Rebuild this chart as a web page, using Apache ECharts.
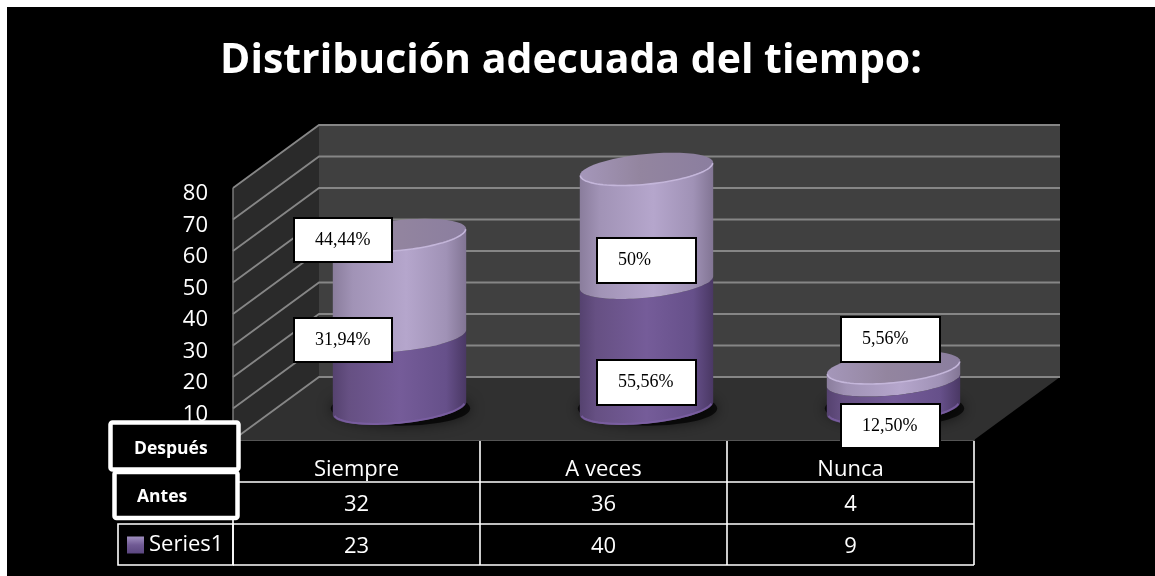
<!DOCTYPE html>
<html>
<head>
<meta charset="utf-8">
<style>
html,body{margin:0;padding:0;background:#fff;}
#chart{position:absolute;left:0;top:0;width:1155px;height:576px;
background:linear-gradient(#000,#000) 7px 7px/1148px 569px no-repeat #fff;}
</style>
<script src="https://cdn.jsdelivr.net/npm/echarts@6/dist/echarts.min.js"></script>
</head>
<body>
<div id="chart"></div>
<script>
const titleText = 'Distribución adecuada del tiempo:';
const categories = ['Siempre', 'A veces', 'Nunca'];
const antes = [32, 36, 4];
const series1 = [23, 40, 9];
const yTicks = [0, 10, 20, 30, 40, 50, 60, 70, 80];
const upperLabels = ['44,44%', '50%', '5,56%'];
const lowerLabels = ['31,94%', '55,56%', '12,50%'];
const rowHeaders = ['Después', 'Antes'];

// layout
const DX = 86, DY = -63, SHEAR = -0.095, RY = 15.2, RX_RATIO = 0.27;
const GRID = {left: 233, top: 188, width: 741, height: 252};
const ROWS = [441, 482, 524, 565];
const UI = '"Open Sans", "Noto Sans", sans-serif';

const chart = echarts.init(document.getElementById('chart'), null, {renderer: 'canvas', width: 1155, height: 576});

function ell(cx, cy, rx, t) {
  return [cx + rx * Math.cos(t), cy + RY * Math.sin(t) + SHEAR * rx * Math.cos(t)];
}
function arc(cx, cy, rx, from, to) {
  const pts = [];
  for (let k = 0; k <= 48; k++) pts.push(ell(cx, cy, rx, from + (to - from) * k / 48));
  return pts;
}
function hGrad(stops) {
  return {type: 'linear', x: 0, y: 0, x2: 1, y2: 0,
    colorStops: stops.map(s => ({offset: s[0], color: s[1]}))};
}
const LOWER_FILL = hGrad([[0, '#55426f'], [0.12, '#665083'], [0.5, '#755c99'], [0.85, '#66508a'], [1, '#4a3864']]);
const UPPER_FILL = hGrad([[0, '#8a7d9c'], [0.15, '#a193b6'], [0.55, '#b5a6cc'], [0.85, '#a092b6'], [1, '#827594']]);
const CAP_FILL = hGrad([[0, '#a597ba'], [0.45, '#93859f'], [1, '#8b7e9f']]);
const ICON_FILL = {type: 'linear', x: 0, y: 0, x2: 0, y2: 1,
  colorStops: [{offset: 0, color: '#a08fc0'}, {offset: 0.5, color: '#705a94'}, {offset: 1, color: '#5b4780'}]};

function renderWalls(params, api) {
  const g = params.coordSys;
  const L = g.x, R = g.x + g.width, T = g.y, B = g.y + g.height;
  const children = [
    {type: 'polygon', shape: {points: [[L, T], [L + DX, T + DY], [L + DX, B + DY], [L, B]]}, style: {fill: '#2a2a2a'}},
    {type: 'polygon', shape: {points: [[L + DX, T + DY], [R + DX, T + DY], [R + DX, B + DY], [L + DX, B + DY]]}, style: {fill: '#404040'}},
    {type: 'polygon', shape: {points: [[L, B], [L + DX, B + DY], [R + DX, B + DY], [R, B]]}, style: {fill: '#303030'}}
  ];
  yTicks.forEach(v => {
    const y = api.coord([0, v])[1];
    children.push({type: 'polyline', shape: {points: [[L, y], [L + DX, y + DY], [R + DX, y + DY]]},
      style: {fill: 'none', stroke: '#868686', lineWidth: 1.8}});
  });
  children.push({type: 'line', shape: {x1: L, y1: T, x2: L, y2: B}, style: {stroke: '#808080', lineWidth: 1.4}});
  return {type: 'group', children};
}

function renderCylinder(isUpper) {
  return function (params, api) {
    const i = api.value(0);
    const base = api.value(1), top = api.value(2);
    const cx = api.coord([i, 0])[0] + DX / 2;
    const y0 = api.coord([i, base])[1] + DY / 2;
    const y1 = api.coord([i, top])[1] + DY / 2;
    const rx = api.size([1, 0])[0] * RX_RATIO;
    const children = [];
    if (!isUpper) {
      children.push({type: 'ellipse', shape: {cx: cx + 1, cy: y0, rx: rx + 3, ry: RY + 2},
        style: {fill: 'rgba(0,0,0,0.7)', shadowBlur: 14, shadowColor: 'rgba(0,0,0,0.8)'}});
    }
    const pts = arc(cx, y0, rx, 0, Math.PI).concat(arc(cx, y1, rx, Math.PI, 0));
    children.push({type: 'polygon', shape: {points: pts}, style: {fill: isUpper ? UPPER_FILL : LOWER_FILL}});
    if (!isUpper) {
      children.push({type: 'polyline', shape: {points: arc(cx, y0 - 1, rx - 1, 0.15, Math.PI - 0.15)},
        style: {fill: 'none', stroke: 'rgba(125,96,165,0.8)', lineWidth: 2}});
    }
    if (isUpper) {
      children.push({type: 'polygon', shape: {points: arc(cx, y1, rx, 0, Math.PI * 2)}, style: {fill: CAP_FILL}});
      children.push({type: 'polyline', shape: {points: arc(cx, y1, rx - 0.5, 0.02, Math.PI - 0.02)},
        style: {fill: 'none', stroke: '#c4b6da', lineWidth: 1.6}});
    }
    return {type: 'group', children};
  };
}

function renderTable(params, api) {
  const i = api.value(0);
  const c = api.coord([i, 0])[0];
  const w = api.size([1, 0])[0];
  const line = '#ffffff';
  const children = [];
  [ROWS[1], ROWS[2], ROWS[3]].forEach(y => children.push({type: 'line',
    shape: {x1: c - w / 2, y1: y, x2: c + w / 2, y2: y}, style: {stroke: line, lineWidth: 1.6}}));
  children.push({type: 'line', shape: {x1: c + w / 2, y1: ROWS[0], x2: c + w / 2, y2: ROWS[3]}, style: {stroke: line, lineWidth: 1.6}});
  if (i === 0) children.push({type: 'line', shape: {x1: c - w / 2, y1: ROWS[0], x2: c - w / 2, y2: ROWS[3]}, style: {stroke: line, lineWidth: 1.6}});
  [api.value(1), api.value(2)].forEach((v, r) => children.push({type: 'text', style: {
    text: String(v), x: c, y: (ROWS[r + 1] + ROWS[r + 2]) / 2 + 2, align: 'center', verticalAlign: 'middle',
    fill: '#fff', font: '22px ' + UI}}));
  return {type: 'group', children};
}

// manually placed text boxes: [left, top, width, height]
const upperBoxes = [[294, 218, 98, 44], [597, 238, 99, 45], [841, 317, 99, 45]];
const lowerBoxes = [[294, 318, 98, 44], [597, 360, 99, 45], [841, 404, 99, 44]];
const TEXT_INSET = 21;
function boxElements(texts, boxes) {
  const out = [];
  texts.forEach((t, i) => {
    const b = boxes[i];
    out.push({type: 'rect', z: 100, shape: {x: b[0], y: b[1], width: b[2], height: b[3]},
      style: {fill: '#fff', stroke: '#000', lineWidth: 2}});
    out.push({type: 'text', z: 101, x: b[0] + TEXT_INSET, y: b[1] + b[3] / 2,
      style: {text: t, fill: '#000', font: '18px "Liberation Serif", serif', verticalAlign: 'middle'}});
  });
  return out;
}
const headerElements = [
  {type: 'rect', z: 100, shape: {x: 118, y: ROWS[2], width: 115, height: ROWS[3] - ROWS[2]}, style: {fill: 'none', stroke: '#fff', lineWidth: 1.6}},
  {type: 'rect', z: 101, shape: {x: 114.5, y: 472, width: 123, height: 46, r: 2}, style: {fill: '#000', stroke: '#fff', lineWidth: 4.5}},
  {type: 'rect', z: 102, shape: {x: 110.5, y: 422.5, width: 128, height: 47, r: 2}, style: {fill: '#000', stroke: '#fff', lineWidth: 4.5}},
  {type: 'text', z: 103, x: 134, y: 449, style: {text: rowHeaders[0], fill: '#fff', font: 'bold 17.5px ' + UI, verticalAlign: 'middle'}},
  {type: 'text', z: 103, x: 137, y: 497, style: {text: rowHeaders[1], fill: '#fff', font: 'bold 17.5px ' + UI, verticalAlign: 'middle'}}
];

chart.setOption({
  animation: false,
  backgroundColor: 'transparent',
  title: {text: titleText, left: 566, top: 36, textAlign: 'center',
    textStyle: {color: '#fff', fontFamily: UI, fontWeight: 'bold', fontSize: 41}},
  legend: {left: 122, top: 529, itemWidth: 17, itemHeight: 17, itemGap: 0,
    data: [{name: 'Series1', icon: 'rect', itemStyle: {color: ICON_FILL}}],
    textStyle: {color: '#fff', fontSize: 22, fontFamily: UI}, selectedMode: false, z: 120},
  grid: GRID,
  xAxis: {type: 'category', data: categories, boundaryGap: true,
    axisLine: {show: true, lineStyle: {color: '#707070', width: 1.5}}, axisTick: {show: false},
    axisLabel: {color: '#fff', fontSize: 22, fontFamily: UI, margin: 19}, splitLine: {show: false}},
  yAxis: {type: 'value', min: 0, max: 80, interval: 10,
    axisLine: {show: false}, axisTick: {show: false}, splitLine: {show: false},
    axisLabel: {color: '#fff', fontSize: 22, fontFamily: UI, margin: 25, showMinLabel: false, verticalAlign: 'top', lineHeight: 12}},
  series: [
    {type: 'custom', name: 'walls', z: 1, silent: true, data: [[0, 0]], encode: {x: 0, y: 1}, renderItem: renderWalls},
    {type: 'custom', name: 'Series1', z: 2, itemStyle: {color: '#6f5a94'},
      data: categories.map((c, i) => [i, 0, series1[i]]), encode: {x: 0, y: [1, 2]}, renderItem: renderCylinder(false)},
    {type: 'custom', name: 'Antes', z: 3, itemStyle: {color: '#b5a6cc'},
      data: categories.map((c, i) => [i, series1[i], series1[i] + antes[i]]), encode: {x: 0, y: [1, 2]}, renderItem: renderCylinder(true)},
    {type: 'custom', name: 'table', z: 4, silent: true,
      data: categories.map((c, i) => [i, antes[i], series1[i]]), encode: {x: 0}, renderItem: renderTable}
  ],
  graphic: {elements: boxElements(upperLabels, upperBoxes).concat(boxElements(lowerLabels, lowerBoxes), headerElements)}
});
</script>
</body>
</html>
